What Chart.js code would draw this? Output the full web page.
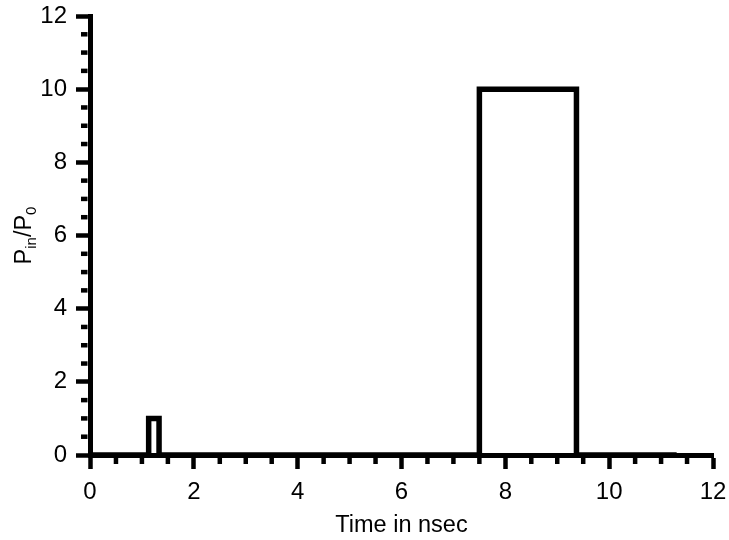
<!DOCTYPE html>
<html>
<head>
<meta charset="utf-8">
<script src="https://cdn.jsdelivr.net/npm/chart.js@4/dist/chart.umd.min.js"></script>
<style>
html,body{margin:0;padding:0;background:#fff;}
canvas{display:block;}
</style>
</head>
<body>
<canvas id="c" width="729" height="540"></canvas>
<script>
// ---- data ----
const timeNs     = [0, 1.13, 1.13, 1.33, 1.33, 7.5, 7.5, 9.37, 9.37, 11.3];
const powerRatio = [0, 0,    1,    1,    0,    0,   10,  10,   0,    0];

// ---- tick labels ----
const xTicks = [0, 2, 4, 6, 8, 10, 12];
const yTicks = [0, 2, 4, 6, 8, 10, 12];
const xMinorTicks = [0.5, 1, 1.5, 2.5, 3, 3.5, 4.5, 5, 5.5, 6.5, 7, 7.5, 8.5, 9, 9.5, 10.5, 11, 11.5];
const yMinorTicks = [0.5, 1, 1.5, 2.5, 3, 3.5, 4.5, 5, 5.5, 6.5, 7, 7.5, 8.5, 9, 9.5, 10.5, 11, 11.5];

const xTitle = 'Time in nsec';
const yTitleParts = [['P', false], ['in', true], ['/P', false], ['0', true]];

const FONT = 'Liberation Sans, Arial, Helvetica, sans-serif';
const AXIS_W = 5;
const TICK_W = 4.5;
const MAJOR_LEN = 14;
const MINOR_LEN = 9;

const decor = {
  id: 'decor',
  afterDraw(chart) {
    const {ctx, scales: {x, y}} = chart;
    ctx.save();
    ctx.strokeStyle = '#000';
    ctx.lineWidth = TICK_W;
    ctx.lineCap = 'butt';
    const y0 = y.getPixelForValue(0);
    const x0 = x.getPixelForValue(0);
    xMinorTicks.forEach(v => {
      const px = x.getPixelForValue(v);
      ctx.beginPath(); ctx.moveTo(px, y0 + AXIS_W / 2); ctx.lineTo(px, y0 + MINOR_LEN); ctx.stroke();
    });
    yMinorTicks.forEach(v => {
      const py = y.getPixelForValue(v);
      ctx.beginPath(); ctx.moveTo(x0 - AXIS_W / 2, py); ctx.lineTo(x0 - MINOR_LEN, py); ctx.stroke();
    });
    // x title
    ctx.fillStyle = '#000';
    ctx.font = '23.5px ' + FONT;
    ctx.textAlign = 'center';
    ctx.textBaseline = 'alphabetic';
    ctx.fillText(xTitle, (chart.chartArea.left + chart.chartArea.right) / 2, 532);
    // y title (rotated, with subscripts)
    const big = '23.5px ' + FONT, small = '15px ' + FONT;
    let total = 0;
    yTitleParts.forEach(([t, sub]) => { ctx.font = sub ? small : big; total += ctx.measureText(t).width; });
    ctx.translate(31, (chart.chartArea.top + chart.chartArea.bottom) / 2);
    ctx.rotate(-Math.PI / 2);
    ctx.textAlign = 'left';
    let cx = -total / 2;
    yTitleParts.forEach(([t, sub]) => {
      ctx.font = sub ? small : big;
      ctx.fillText(t, cx, sub ? 5 : 0);
      cx += ctx.measureText(t).width;
    });
    ctx.restore();
  }
};

new Chart(document.getElementById('c'), {
  type: 'scatter',
  data: {
    datasets: [{
      data: timeNs.map((t, i) => ({x: t, y: powerRatio[i]})),
      showLine: true,
      borderColor: '#000',
      backgroundColor: '#000',
      borderWidth: 5.5,
      pointRadius: 0,
      borderJoinStyle: 'miter',
      borderCapStyle: 'butt',
      clip: false,
      tension: 0
    }]
  },
  options: {
    responsive: false,
    animation: false,
    devicePixelRatio: 1,
    layout: {padding: {left: 0, top: 16, right: 16, bottom: 0}},
    plugins: {legend: {display: false}, tooltip: {enabled: false}},
    scales: {
      x: {
        type: 'linear', min: 0, max: 12,
        afterBuildTicks: s => { s.ticks = xTicks.map(v => ({value: v})); },
        afterFit: s => { s.height = 85; s.paddingLeft = 0; s.paddingRight = 0; },
        grid: {display: true, drawOnChartArea: false, drawTicks: true, tickLength: MAJOR_LEN, tickWidth: TICK_W, tickColor: '#000'},
        border: {display: true, width: AXIS_W, color: '#000'},
        ticks: {color: '#000', font: {family: FONT, size: 24}, padding: 9, maxRotation: 0, autoSkip: false}
      },
      y: {
        type: 'linear', min: 0, max: 12,
        afterBuildTicks: s => { s.ticks = yTicks.map(v => ({value: v})); },
        afterFit: s => { s.width = 90; s.paddingTop = 0; s.paddingBottom = 0; },
        grid: {display: true, drawOnChartArea: false, drawTicks: true, tickLength: MAJOR_LEN, tickWidth: TICK_W, tickColor: '#000'},
        border: {display: true, width: AXIS_W, color: '#000'},
        ticks: {color: '#000', font: {family: FONT, size: 24}, padding: 9, autoSkip: false}
      }
    }
  },
  plugins: [decor]
});
</script>
</body>
</html>
